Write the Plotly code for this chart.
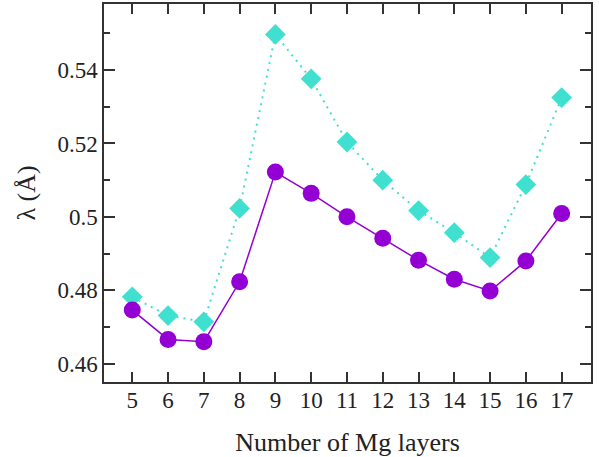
import plotly.graph_objects as go

layers = [5, 6, 7, 8, 9, 10, 11, 12, 13, 14, 15, 16, 17]
lam_circle = [0.4746, 0.4666, 0.4660, 0.4823, 0.5122, 0.5064, 0.5000, 0.4942, 0.4882, 0.4830, 0.4798, 0.4880, 0.5009]
lam_diamond = [0.4782, 0.4731, 0.4714, 0.5023, 0.5497, 0.5376, 0.5204, 0.5100, 0.5017, 0.4957, 0.4889, 0.5088, 0.5325]
y_ticks = [0.46, 0.48, 0.5, 0.52, 0.54]
y_tick_labels = ["0.46", "0.48", "0.5", "0.52", "0.54"]

font_family = "Liberation Serif"
tick_font = dict(family=font_family, size=23, color="#222222")

fig = go.Figure()
fig.add_trace(go.Scatter(
    x=layers, y=lam_diamond, mode="lines+markers",
    line=dict(color="#40E0D0", width=2, dash="2px,5px"),
    marker=dict(symbol="diamond", size=16, color="#40E0D0"),
    showlegend=False,
))
fig.add_trace(go.Scatter(
    x=layers, y=lam_circle, mode="lines+markers",
    line=dict(color="#9400D3", width=1.5),
    marker=dict(symbol="circle", size=17, color="#9400D3"),
    showlegend=False,
))

fig.update_layout(
    width=599, height=457,
    margin=dict(l=104, r=8, t=4, b=75),
    plot_bgcolor="white", paper_bgcolor="white",
    font=dict(family=font_family, size=22, color="#222222"),
    xaxis=dict(
        showline=True, linecolor="#333333", linewidth=1.5, mirror="ticks",
        ticks="inside", tickcolor="#333333", tickwidth=1.5,
        showgrid=False, zeroline=False, automargin=False,
        range=[4.21, 17.82], tickvals=layers, ticklen=10,
        tickfont=tick_font, ticklabelstandoff=-3,
        title=dict(text="Number of Mg layers", font=dict(family=font_family, size=26, color="#222222"), standoff=20),
    ),
    yaxis=dict(
        showline=True, linecolor="#333333", linewidth=1.5, mirror="ticks",
        ticks="inside", tickcolor="#333333", tickwidth=1.5,
        showgrid=False, zeroline=False, automargin=False,
        range=[0.455, 0.558], tickvals=y_ticks, ticktext=y_tick_labels, ticklen=11,
        tickfont=tick_font,
        minor=dict(tickvals=[0.47, 0.49, 0.51, 0.53, 0.55], ticks="inside", ticklen=6, tickcolor="#333333", tickwidth=1.5),
        title=dict(text="λ (Å)", font=dict(family=font_family, size=26, color="#222222"), standoff=14),
    ),
)

fig.write_html("out.html")
